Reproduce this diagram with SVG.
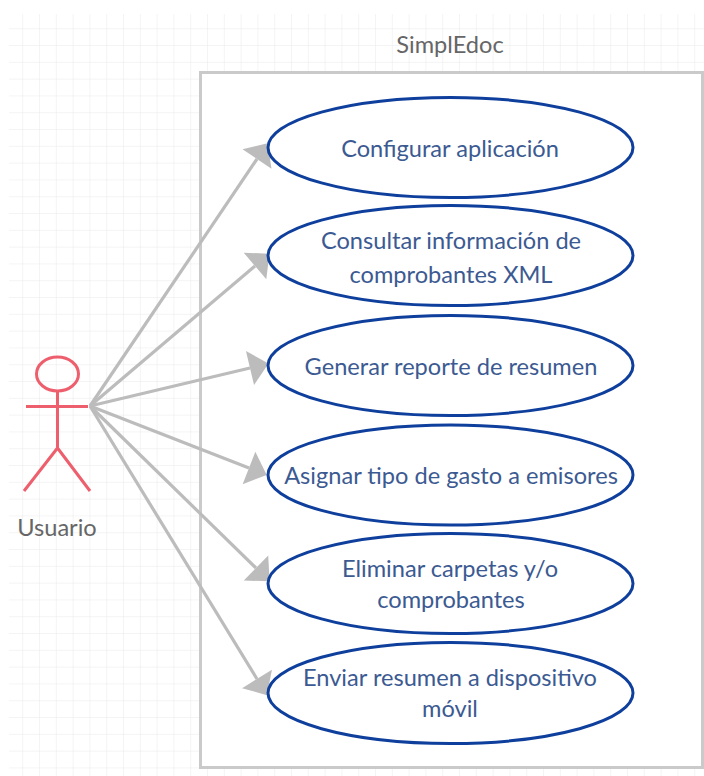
<svg xmlns="http://www.w3.org/2000/svg" width="704" height="776" viewBox="0 0 704 776">
<style>
.g{stroke:#e9e9e9;stroke-width:1;fill:none}
.c{stroke:#bcbcbc;stroke-width:3.200;fill:none;marker-end:url(#a)}
.u{fill:#fff;stroke:#0f3f9c;stroke-width:3}
.t{font-family:Lato,"Liberation Sans",sans-serif;font-size:23.600px;fill:#3c5a92;text-anchor:middle}
.l{font-family:Lato,"Liberation Sans",sans-serif;font-size:23.600px;fill:#666;text-anchor:middle}
.s{stroke:#ee5f6e;stroke-width:3;fill:none}
</style>
<defs>
<marker id="a" markerUnits="userSpaceOnUse" markerWidth="21" markerHeight="38" refX="1" refY="19" orient="auto"><path d="M1,1.500L20,19L1,36.500Z" fill="#bcbcbc"/></marker>
<pattern id="p" width="16.800" height="16.800" patternUnits="userSpaceOnUse" x="6.400" y="12.400"><path class="g" d="M16.800 0V16.800M0 16.800H16.800"/></pattern>
</defs>
<rect width="704" height="776" fill="#fff"/>
<rect id="grid" x="9" y="14" width="695" height="762" fill="url(#p)"/>
<g id="boundary"><rect x="200.500" y="72.500" width="502" height="695" fill="#fff" stroke="#cacaca" stroke-width="3"/><text class="l" x="450" y="53">SimplEdoc</text></g>
<g id="connectors">
<line class="c" x1="90" y1="406" x2="257" y2="159"/>
<line class="c" x1="90" y1="406" x2="255" y2="266"/>
<line class="c" x1="90" y1="406" x2="250" y2="368"/>
<line class="c" x1="90" y1="406" x2="249" y2="468"/>
<line class="c" x1="90" y1="406" x2="256" y2="568"/>
<line class="c" x1="90" y1="406" x2="257" y2="679"/>
</g>
<g id="uc1"><ellipse class="u" cx="450.500" cy="147.500" rx="182.500" ry="50"/><text class="t" x="450" y="157">Configurar aplicación</text></g>
<g id="uc2"><ellipse class="u" cx="450.500" cy="255.500" rx="182.500" ry="50"/><text class="t" x="451" y="249">Consultar información de</text><text class="t" x="451" y="283">comprobantes XML</text></g>
<g id="uc3"><ellipse class="u" cx="450.500" cy="365.500" rx="182.500" ry="50"/><text class="t" x="451" y="375">Generar reporte de resumen</text></g>
<g id="uc4"><ellipse class="u" cx="450.500" cy="475" rx="182.500" ry="50"/><text class="t" x="451" y="484">Asignar tipo de gasto a emisores</text></g>
<g id="uc5"><ellipse class="u" cx="450.500" cy="583.500" rx="182.500" ry="50"/><text class="t" x="450" y="577">Eliminar carpetas y/o</text><text class="t" x="451" y="608">comprobantes</text></g>
<g id="uc6"><ellipse class="u" cx="450.500" cy="693" rx="182.500" ry="50.500"/><text class="t" x="450" y="686">Enviar resumen a dispositivo</text><text class="t" x="450" y="717">móvil</text></g>
<g id="actor"><ellipse class="s" cx="57.500" cy="374" rx="21" ry="17"/><path class="s" d="M57.500 391V448M26 406.500H88M57.500 448L24 491M57.500 448L90 491"/><text class="l" x="57" y="536">Usuario</text></g>
</svg>
